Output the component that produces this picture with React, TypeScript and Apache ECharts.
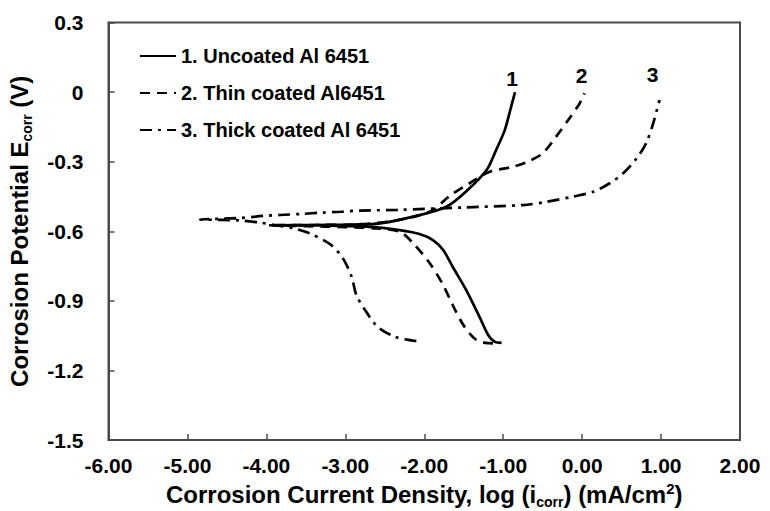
import React, { useEffect, useRef } from "react";
import * as echarts from "echarts";

// Curve 1: Uncoated Al 6451 (cathodic end -> Ecorr -> anodic end), [log i, E]
const uncoated: [number, number][] = [
  [-1.02, -1.081], [-1.11, -1.076], [-1.19, -1.047], [-1.3, -0.969], [-1.47, -0.853],
  [-1.64, -0.753], [-1.76, -0.681], [-1.89, -0.638], [-2.06, -0.612], [-2.31, -0.595],
  [-2.73, -0.58], [-3.2, -0.576], [-3.58, -0.574], [-3.92, -0.575],
  [-3.4, -0.573], [-2.9, -0.571], [-2.56, -0.566], [-2.14, -0.537], [-1.72, -0.494],
  [-1.45, -0.422], [-1.21, -0.336], [-1.09, -0.25], [-0.98, -0.164], [-0.91, -0.077],
  [-0.85, 0.0],
];

// Curve 2: Thin coated Al6451
const thinCoated: [number, number][] = [
  [-1.13, -1.083], [-1.23, -1.081], [-1.34, -1.069], [-1.49, -1.012], [-1.64, -0.918],
  [-1.76, -0.832], [-1.93, -0.738], [-2.14, -0.652], [-2.31, -0.602], [-2.6, -0.588],
  [-3.0, -0.582], [-3.5, -0.578], [-3.97, -0.574],
  [-3.4, -0.573], [-2.9, -0.571], [-2.5, -0.56], [-2.1, -0.535], [-1.89, -0.509],
  [-1.68, -0.448], [-1.42, -0.392], [-1.17, -0.343], [-0.88, -0.322], [-0.69, -0.3],
  [-0.5, -0.264], [-0.33, -0.192], [-0.16, -0.113], [-0.03, -0.048], [0.03, -0.005],
];

// Curve 3: Thick coated Al 6451
const thickCoated: [number, number][] = [
  [-2.1, -1.073], [-2.14, -1.072], [-2.37, -1.055], [-2.59, -1.012], [-2.75, -0.94],
  [-2.86, -0.875], [-2.92, -0.796], [-3.03, -0.717], [-3.18, -0.659], [-3.45, -0.609],
  [-3.65, -0.588], [-3.88, -0.574], [-4.08, -0.563], [-4.35, -0.553], [-4.84, -0.549],
  [-4.34, -0.543], [-4.04, -0.534], [-3.83, -0.53], [-3.54, -0.525], [-3.3, -0.52],
  [-3.05, -0.516], [-2.82, -0.511], [-2.34, -0.508], [-1.47, -0.497], [-0.75, -0.487],
  [-0.45, -0.473], [-0.12, -0.451], [0.14, -0.43], [0.35, -0.393], [0.52, -0.35],
  [0.69, -0.286], [0.81, -0.221], [0.9, -0.135], [0.98, -0.034],
];

const seriesNames = ["1. Uncoated Al 6451", "2. Thin coated Al6451", "3. Thick coated Al 6451"];
const endTags = ["1", "2", "3"];

const FONT = "Liberation Sans, Arial, sans-serif";

export default function App() {
  const ref = useRef<HTMLDivElement>(null);
  useEffect(() => {
    if (!ref.current) return;
    const chart = echarts.init(ref.current, undefined, { renderer: "svg" });
    const curves = [uncoated, thinCoated, thickCoated];
    const lineTypes: any[] = ["solid", [10, 7], [12, 6, 3, 6]];
    const tagCfg = [
      { distance: 3, offset: [-3, 0] },
      { distance: 7, offset: [-3, 0] },
      { distance: 14, offset: [-7, 0] },
    ];
    const series = curves.map((c, i) => ({
      name: seriesNames[i],
      type: "line",
      symbol: "none",
      smooth: 0.3,
      lineStyle: { color: "#000", width: 2.7, type: lineTypes[i] },
      itemStyle: { color: "#000" },
      data: c,
      markPoint: {
        symbol: "circle",
        symbolSize: 1,
        itemStyle: { color: "transparent" },
        silent: true,
        label: {
          show: true,
          formatter: endTags[i],
          position: "top",
          distance: tagCfg[i].distance,
          offset: tagCfg[i].offset,
          fontFamily: FONT,
          fontWeight: "bold",
          fontSize: 21,
          color: "#000",
        },
        data: [{ coord: c[c.length - 1] }],
      },
    }));
    const axisName = {
      fontFamily: FONT,
      fontWeight: "bold",
      fontSize: 24,
      color: "#000",
      lineHeight: 28,
      rich: {
        sub: { fontFamily: FONT, fontWeight: "bold", fontSize: 14, color: "#000", verticalAlign: "bottom", lineHeight: 14 },
        sup: { fontFamily: FONT, fontWeight: "bold", fontSize: 15, color: "#000", verticalAlign: "top", lineHeight: 15 },
      },
    };
    chart.setOption({
      animation: false,
      backgroundColor: "#fff",
      textStyle: { fontFamily: FONT },
      grid: {
        left: 108.5,
        right: 30,
        top: 22.5,
        bottom: 71,
        containLabel: false,
        outerBoundsMode: "none",
        show: true,
        borderColor: "#4a4a4a",
        borderWidth: 2,
        backgroundColor: "transparent",
      },
      legend: {
        orient: "vertical",
        left: 139,
        top: 46,
        padding: 0,
        itemWidth: 36,
        itemHeight: 14,
        itemGap: 17,
        data: seriesNames,
        itemStyle: { opacity: 0 },
        textStyle: { fontFamily: FONT, fontWeight: "bold", fontSize: 20, color: "#000", lineHeight: 20 },
      },
      xAxis: {
        type: "value",
        min: -6,
        max: 2,
        interval: 1,
        name: "Corrosion Current Density, log (i{sub|corr}) (mA/cm{sup|2})",
        nameLocation: "middle",
        nameGap: 40,
        nameTextStyle: axisName,
        axisLine: { show: true, onZero: false, lineStyle: { color: "#4a4a4a", width: 2 } },
        axisTick: { show: true, inside: true, length: 6, lineStyle: { color: "#4a4a4a", width: 1.5 } },
        axisLabel: {
          fontFamily: FONT,
          fontWeight: "bold",
          fontSize: 21,
          color: "#000",
          margin: 15,
          formatter: (v: number) => v.toFixed(2),
        },
        splitLine: { show: false },
      },
      yAxis: {
        type: "value",
        min: -1.5,
        max: 0.3,
        interval: 0.3,
        name: "Corrosion Potential E{sub|corr} (V)",
        nameLocation: "middle",
        nameGap: 75,
        nameTextStyle: axisName,
        axisLine: { show: true, onZero: false, lineStyle: { color: "#4a4a4a", width: 2 } },
        axisTick: { show: true, inside: true, length: 6, lineStyle: { color: "#4a4a4a", width: 1.5 } },
        axisLabel: {
          fontFamily: FONT,
          fontWeight: "bold",
          fontSize: 21,
          color: "#000",
          margin: 25,
          formatter: (v: number) => {
            const r = Math.round(v * 10) / 10;
            return r === 0 ? "0" : r.toFixed(1);
          },
        },
        splitLine: { show: false },
      },
      series,
    });
    return () => chart.dispose();
  }, []);
  return (
    <div
      ref={ref}
      style={{ position: "absolute", left: 0, top: 0, width: 770, height: 511 }}
    />
  );
}
